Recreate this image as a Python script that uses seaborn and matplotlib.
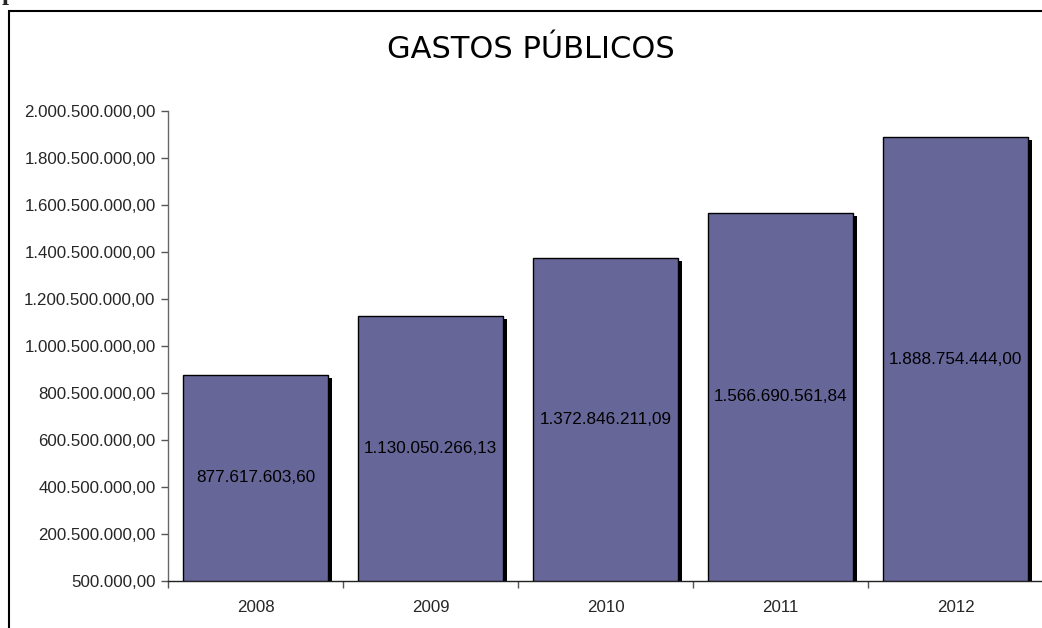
import matplotlib
matplotlib.use("Agg")
import matplotlib.pyplot as plt
import matplotlib.transforms as mtransforms
from matplotlib.patches import Rectangle
import seaborn as sns
import pandas as pd

years = ["2008", "2009", "2010", "2011", "2012"]
values = [877617603.60, 1130050266.13, 1372846211.09, 1566690561.84, 1888754444.00]
value_labels = ["877.617.603,60", "1.130.050.266,13", "1.372.846.211,09",
                "1.566.690.561,84", "1.888.754.444,00"]
yticks = [500000 + 200000000 * i for i in range(11)]
ytick_labels = ["500.000,00", "200.500.000,00", "400.500.000,00", "600.500.000,00",
                "800.500.000,00", "1.000.500.000,00", "1.200.500.000,00",
                "1.400.500.000,00", "1.600.500.000,00", "1.800.500.000,00",
                "2.000.500.000,00"]
title = "GASTOS PÚBLICOS"

sns.set_theme(style="white")
plt.rcParams['font.family'] = ['Liberation Sans', 'DejaVu Sans']

fig = plt.figure(figsize=(10.42, 6.28), dpi=100)
ax = fig.add_axes([168/1042, 1-581/628, (1043-168)/1042, (581-111)/628])

df = pd.DataFrame({"year": years, "value": values})
sns.barplot(data=df, x="year", y="value", color="#666699", saturation=1,
            width=0.83, edgecolor="black", linewidth=1.0, ax=ax, zorder=3)

# shadows
offset = mtransforms.ScaledTranslation(4/100, -3/100, fig.dpi_scale_trans)
for p in list(ax.patches):
    sh = Rectangle((p.get_x(), p.get_y()), p.get_width(), p.get_height(),
                   facecolor="black", edgecolor="none",
                   transform=ax.transData + offset, zorder=2)
    ax.add_patch(sh)

for i, (v, lab) in enumerate(zip(values, value_labels)):
    ax.text(i, (v + yticks[0]) / 2, lab,
            ha="center", va="center", fontsize=12.3, color="black", zorder=5)

ax.set_ylim(yticks[0], yticks[-1])
ax.set_xlim(-0.5, 4.5)
ax.set_yticks(yticks)
ax.set_yticklabels(ytick_labels, fontsize=12.2)
ax.set_xticks(range(len(years)))
ax.set_xticklabels(years, fontsize=12.2)
ax.tick_params(axis="x", which="major", length=0, pad=14)
ax.set_xticks([i - 0.5 for i in range(len(years) + 1)], minor=True)
ax.tick_params(axis="x", which="minor", length=5, width=1, color="#555555", direction="out", bottom=True)
ax.tick_params(axis="y", length=5, width=1, color="#555555", direction="out", left=True, pad=4)
ax.set_xlabel("")
ax.set_ylabel("")
for s in ["top", "right"]:
    ax.spines[s].set_visible(False)
ax.spines["left"].set_color("#666666")
ax.spines["left"].set_linewidth(1.0)
ax.spines["bottom"].set_color("#222222")
ax.spines["bottom"].set_linewidth(1.0)
ax.grid(False)

fig.text(531/1042, 1-49/628, title, ha="center", va="center", fontsize=22,
         color="black", family=["DejaVu Sans"])

# outer frame
frame = Rectangle((9/1042, -0.01), 1.02, 1-11/628 + 0.01, transform=fig.transFigure,
                  facecolor="none", edgecolor="black", linewidth=1.5, clip_on=False)
fig.patches.append(frame)

fig.text(2/1042, 1+6/628, "p", ha="left", va="center", fontsize=18,
         fontweight="bold", family=["Liberation Serif", "DejaVu Serif"])

fig.savefig("out.png", dpi=100)
